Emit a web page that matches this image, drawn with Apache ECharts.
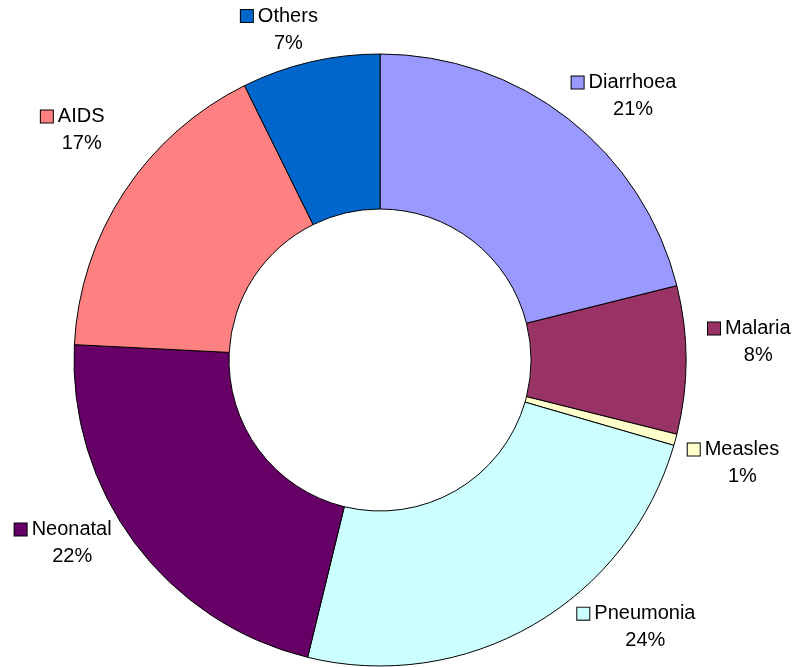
<!DOCTYPE html>
<html><head><meta charset="utf-8">
<script src="https://cdn.jsdelivr.net/npm/echarts@6/dist/echarts.min.js"></script>
<style>html,body{margin:0;padding:0;background:#fff}#c{width:798px;height:667px}</style>
</head><body><div id="c"></div>
<script>
const categories = ['Diarrhoea', 'Malaria', 'Measles', 'Pneumonia', 'Neonatal', 'AIDS', 'Others'];
const values = [21.1, 7.8, 0.6, 24.3, 22.0, 16.9, 7.3];
const colors = ['#9999FF', '#993366', '#FFFFCC', '#CCFFFF', '#660066', '#FF8080', '#0066CC'];
const labelNudge = [[-9, -7], [2, -18], [-7, 18], [34, -15], [-7, -12], [-3, -51], [12, -13]];

const FONT = "'Liberation Sans', Arial, sans-serif";
const rich = {
  n: { fontSize: 20, fontFamily: FONT, color: '#000', lineHeight: 27, align: 'center' },
  p: { fontSize: 20, fontFamily: FONT, color: '#000', lineHeight: 27, align: 'center' },
  s: { width: 18, height: 12, align: 'center' },
  g: { width: 5, align: 'center' }
};
colors.forEach((c, i) => {
  rich['k' + i] = { width: 12, height: 12, backgroundColor: c, borderColor: '#000', borderWidth: 1, align: 'center' };
});

const chart = echarts.init(document.getElementById('c'), null, { renderer: 'canvas' });
chart.setOption({
  animation: false,
  backgroundColor: '#fff',
  series: [{
    type: 'pie',
    center: [380, 360],
    radius: [151, 306],
    startAngle: 90,
    clockwise: true,
    avoidLabelOverlap: false,
    minShowLabelAngle: 0,
    data: categories.map((name, i) => ({ name, value: values[i], itemStyle: { color: colors[i] } })),
    itemStyle: { borderColor: '#000', borderWidth: 1 },
    emphasis: { disabled: true },
    label: {
      show: true,
      position: 'outside',
      distanceToLabelLine: 0,
      formatter: p => '{k' + p.dataIndex + '|}{g|}{n|' + p.name + '}\n{s|}{p|' + Math.round(p.percent) + '%}',
      rich: rich
    },
    labelLine: { show: false, length: 20, length2: 0 },
    labelLayout: function (params) {
      const n = labelNudge[params.dataIndex];
      return { dx: n[0], dy: n[1] };
    }
  }]
});
</script></body></html>
